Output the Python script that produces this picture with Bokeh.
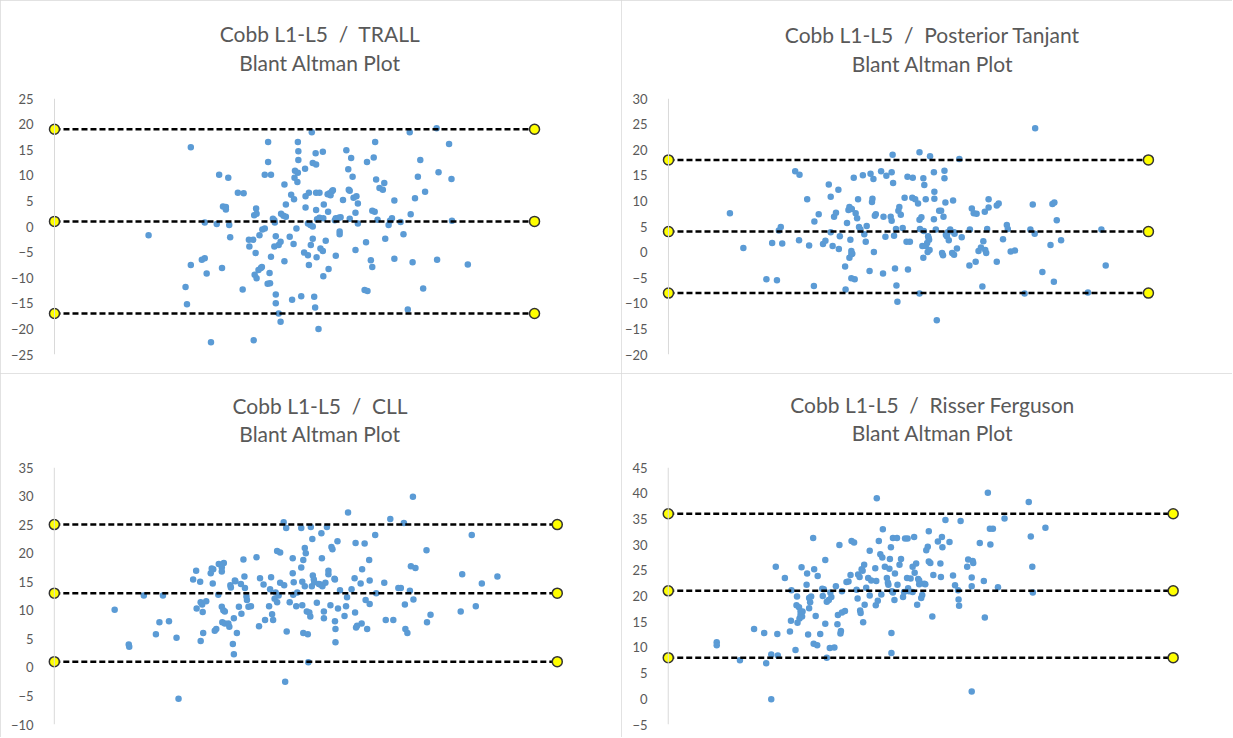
from bokeh.plotting import figure
from bokeh.layouts import gridplot
from bokeh.models import Title, Span, SingleIntervalTicker, Range1d
from bokeh.embed import file_html
from bokeh.resources import INLINE

# ---------------- data ----------------
line_x = [0, 100]  # extent of the agreement lines (arbitrary mean scale)

# Panel 1: Cobb L1-L5 / TRALL
trall_mean = [
    19.6, 28.4, 27.3, 27.6, 28.4, 30.7, 31.3, 31.3, 31.7, 32.6,
    33.8, 34.3, 34.9, 35.1, 35.7, 35.7, 36.2, 36.4, 36.6, 38.2,
    39.4, 39.2, 40.5, 40.6, 41.4, 41.5, 41.6, 42.0, 42.1, 41.9,
    41.7, 42.1, 42.5, 43.0, 43.2, 42.7, 43.3, 43.8, 43.8, 44.5,
    44.5, 45.1, 44.4, 44.9, 44.8, 45.1, 45.5, 45.8, 45.9, 45.8,
    46.1, 46.1, 46.1, 46.7, 47.1, 46.7, 47.1, 47.2, 47.7, 48.2,
    47.9, 47.9, 48.2, 49.0, 49.3, 49.5, 49.8, 49.9, 50.0, 50.1,
    50.7, 50.6, 50.4, 50.7, 50.8, 50.8, 51.4, 52.0, 52.2, 52.3,
    52.3, 52.8, 52.8, 53.3, 53.8, 53.0, 53.0, 53.4, 53.8, 53.6,
    53.8, 54.5, 54.1, 54.3, 54.4, 54.5, 54.6, 54.5, 55.2, 54.7,
    55.2, 55.0, 55.4, 55.9, 55.9, 56.0, 56.1, 56.0, 56.5, 56.9,
    57.3, 57.8, 58.0, 57.5, 57.0, 57.1, 58.4, 58.6, 59.2, 59.6,
    58.6, 59.4, 59.4, 60.1, 60.8, 61.2, 61.5, 61.3, 61.5, 61.8,
    62.1, 62.3, 62.7, 62.9, 63.2, 63.2, 62.7, 64.9, 64.6, 65.2,
    65.1, 65.9, 66.2, 66.2, 66.7, 66.5, 66.8, 67.0, 67.3, 67.7,
    68.4, 68.7, 68.9, 69.6, 69.9, 70.3, 70.8, 70.8, 72.1, 72.7,
    73.6, 74.0, 74.2, 74.6, 75.1, 75.7, 76.2, 76.8, 77.2, 79.6,
    79.7, 80.0, 82.2, 82.7, 82.8, 86.1,
]
trall_diff = [
    -1.7, 15.5, -11.8, -15.2, -7.5, -6.5, -6.2, 0.8, -9.2, -22.6,
    0.5, 10.1, -8.1, 3.9, 3.8, 3.3, 9.5, 0.3, -2.1, 6.6,
    6.5, -12.3, -2.6, -3.9, -2.6, -22.2, 2.2, 3.5, 2.5, -5.2,
    -9.4, -10.1, -8.5, -8.1, -7.9, -1.7, -0.6, -0.4, 10.1, 16.5,
    12.6, 10.1, -11.2, -11.1, -9.1, -5.9, 1.5, 1.2, 0.8, -3.9,
    -1.9, -13.3, -15.0, -17.0, -18.6, -3.6, -3.0, 2.5, 2.1, 1.9,
    -6.8, 8.2, 4.3, -2.0, 6.2, -14.3, -3.4, 5.3, 9.5, 10.9,
    10.5, 8.7, -0.4, 16.5, 14.7, 13.0, -13.6, -5.1, 11.3, 5.9,
    3.7, -5.6, 0.6, 0.3, 0.0, -7.5, 6.6, -3.6, -2.4, 18.4,
    12.4, 12.1, -13.7, -15.8, 14.3, 3.2, -6.0, 6.6, 6.6, 1.4,
    1.7, -20.0, -4.3, -4.8, 14.6, -9.7, 4.3, 1.6, -2.8, 6.3,
    6.5, 6.9, 7.1, 6.1, 2.9, -8.3, 1.2, 1.6, 1.7, 1.8,
    -5.7, -1.0, -1.5, 5.2, 14.9, 11.2, 7.0, 7.2, 1.5, 13.4,
    9.7, 5.6, 2.7, 5.9, 4.5, 0.6, -4.6, -3.1, -12.4, -12.6,
    12.6, -6.6, -7.9, 3.1, 2.9, 13.5, 16.5, 9.2, 1.3, 7.5,
    7.2, 8.5, -2.4, 0.3, 1.1, 1.6, 5.1, -6.3, 0.9, -1.5,
    -16.2, 18.4, 2.4, -7.0, 5.5, 9.7, 13.0, -12.1, 6.8, 19.2,
    -6.5, 10.6, 16.1, 9.3, 1.1, -7.4,
]
trall_limits = [19, 1, -17]

# Panel 2: Cobb L1-L5 / Posterior Tanjant
post_mean = [
    12.8, 15.6, 20.4, 21.6, 22.6, 23.0, 23.4, 23.7, 26.4, 27.3,
    27.2, 28.9, 29.3, 30.4, 30.3, 31.3, 32.2, 32.7, 33.4, 33.8,
    33.8, 34.2, 34.5, 34.9, 35.4, 35.5, 35.7, 36.8, 36.9, 37.2,
    37.5, 37.7, 37.7, 37.9, 38.1, 38.1, 38.2, 38.3, 38.1, 38.6,
    38.8, 39.0, 39.3, 39.5, 39.7, 40.0, 40.5, 40.8, 41.1, 41.3,
    41.9, 42.1, 42.4, 42.5, 42.7, 42.8, 43.0, 43.2, 44.3, 44.7,
    44.8, 45.2, 45.4, 46.3, 46.5, 46.5, 46.8, 47.0, 46.7, 47.2,
    47.4, 47.5, 47.7, 47.9, 48.1, 48.4, 48.8, 49.2, 49.6, 49.9,
    49.8, 50.3, 50.9, 50.8, 51.4, 52.0, 52.3, 52.4, 52.3, 52.7,
    52.9, 53.1, 53.1, 53.3, 53.6, 53.2, 53.6, 53.9, 54.0, 54.1,
    54.2, 54.3, 54.5, 54.4, 55.3, 55.4, 55.3, 55.4, 55.7, 55.9,
    56.4, 56.8, 57.0, 57.2, 57.3, 57.5, 57.5, 57.7, 57.8, 58.0,
    58.2, 58.4, 58.7, 59.1, 59.3, 59.5, 59.5, 59.6, 60.1, 60.6,
    61.1, 62.7, 62.8, 63.2, 63.6, 64.0, 64.2, 64.6, 65.1, 65.4,
    65.6, 65.9, 66.0, 66.2, 66.4, 66.7, 66.7, 68.4, 68.4, 68.8,
    69.7, 70.5, 70.7, 71.3, 72.2, 74.2, 75.4, 75.9, 76.3, 76.4,
    77.9, 79.6, 80.0, 80.4, 80.3, 80.9, 81.8, 87.4, 90.2, 91.1, 52.3,
]
post_diff = [
    7.6, 0.8, -5.3, 1.8, -5.5, 4.2, 4.9, 1.7, 15.8, 15.1,
    2.3, 10.3, 1.3, 6.0, -6.6, 7.4, 1.6, 2.2, 13.2, 10.8,
    3.9, 1.2, 6.9, 7.7, 12.2, 0.6, 3.1, -2.8, -7.3, 5.7,
    8.2, -1.1, 8.8, 2.4, 0.2, -0.4, 8.4, -0.3, -5.1, 14.5,
    -5.3, 7.6, 6.6, 10.3, 4.9, 4.4, 15.0, 3.5, 2.0, 5.1,
    -3.7, 15.3, 9.8, 10.4, 14.3, 0.0, 7.1, 7.4, 15.8, -4.2,
    6.9, 3.0, 14.9, 6.9, 15.6, 6.1, 13.5, 3.2, 19.0, -3.2,
    4.5, -6.5, -9.7, 8.1, 8.8, 7.3, 4.7, 10.6, 2.0, -3.4,
    14.7, 2.0, 14.5, 10.6, 10.3, 9.5, 19.5, 4.5, 6.3, 6.8,
    1.2, -1.1, 14.4, 13.1, 10.3, 4.1, 1.2, 1.8, 0.0, 3.1,
    2.7, 2.4, 18.7, 0.4, 15.6, 11.8, 6.4, 10.4, 4.4, -13.3,
    8.1, 8.1, -0.2, -0.6, 6.9, 14.4, 15.9, 9.7, 3.4, 3.1,
    3.9, 2.3, 4.4, -0.2, 10.1, -0.5, 3.9, 3.6, 0.7, 18.2,
    2.9, -2.6, 4.4, 8.5, 7.6, -1.9, 7.5, 0.2, 0.9, -6.7,
    2.1, 7.9, 0.4, -0.2, 4.5, 8.7, 10.3, -1.9, 9.1, 9.5,
    2.5, 5.3, 4.5, 0.1, 0.3, -8.1, 4.4, 9.3, 3.6, 24.2,
    -3.9, 1.4, 9.4, 9.7, -5.8, 6.2, 2.3, -7.9, 4.4, -2.6, -8.1,
]
post_limits = [18, 4, -8]

# Panel 3: Cobb L1-L5 / CLL
cll_mean = [
    12.0, 14.8, 14.9, 17.8, 20.2, 20.9, 21.6, 22.8, 24.3, 24.7,
    27.6, 28.2, 28.3, 29.0, 29.1, 29.1, 29.4, 29.5, 29.6, 30.2,
    31.1, 31.3, 31.5, 31.6, 31.9, 32.2, 32.6, 32.7, 33.3, 33.3,
    33.3, 33.4, 33.6, 33.7, 33.9, 33.9, 34.6, 34.8, 35.0, 35.1,
    35.5, 35.7, 35.7, 35.9, 36.0, 36.3, 36.7, 37.1, 37.2, 37.6,
    37.8, 37.9, 38.2, 38.3, 38.6, 39.1, 40.2, 40.7, 40.9, 41.6,
    41.9, 42.7, 42.9, 43.1, 43.3, 43.5, 43.8, 44.0, 44.3, 44.3,
    44.6, 44.9, 44.9, 45.6, 45.7, 45.9, 46.1, 46.2, 46.8, 47.4,
    47.4, 47.5, 47.6, 48.1, 48.3, 49.1, 49.1, 49.3, 49.3, 49.5,
    49.5, 49.8, 49.8, 50.0, 50.2, 50.4, 50.5, 50.7, 50.9, 51.0,
    51.2, 51.3, 51.4, 51.6, 51.7, 52.2, 52.6, 52.9, 53.1, 53.2,
    53.3, 53.6, 53.6, 53.9, 54.2, 54.5, 54.5, 54.9, 55.1, 55.3,
    55.7, 55.8, 55.8, 55.9, 55.9, 56.3, 56.4, 56.8, 57.7, 58.0,
    58.2, 58.4, 59.1, 59.7, 59.8, 59.9, 60.0, 60.2, 60.9, 61.1,
    61.2, 61.7, 61.9, 62.2, 62.6, 62.7, 62.7, 63.8, 64.0, 65.6,
    65.9, 66.8, 67.4, 68.4, 68.9, 69.5, 69.7, 69.8, 70.2, 70.7,
    70.9, 71.3, 71.4, 71.8, 74.0, 74.1, 74.8, 80.8, 81.1, 83.0, 83.8, 85.0, 88.1,
]
cll_diff = [
    10.1, 4.0, 3.6, 12.6, 5.8, 7.9, 12.6, 8.1, 5.2, -5.5,
    15.4, 16.9, 10.3, 15.0, 4.6, 11.4, 11.0, 9.7, 6.0, 11.6,
    16.5, 17.3, 14.7, 17.2, 6.4, 6.7, 12.7, 18.1, 17.5, 16.8,
    10.6, 7.9, 10.0, 18.3, 9.8, 7.7, 7.7, 7.1, 14.4, 14.0,
    4.1, 2.3, 8.6, 15.2, 15.1, 6.0, 10.6, 14.6, 9.4, 18.9,
    15.9, 13.9, 12.4, 11.8, 10.6, 10.7, 19.3, 7.2, 15.6, 14.5,
    8.3, 10.7, 13.7, 15.8, 9.3, 8.3, 12.0, 13.1, 11.4, 20.4,
    12.6, 20.1, 14.8, 25.4, 14.4, -2.5, 24.4, 6.3, 11.4, 19.1,
    16.5, 12.7, 14.9, 10.7, 13.1, 24.4, 17.5, 10.9, 15.0, 6.0,
    18.8, 14.2, 20.9, 20.0, 9.8, 5.8, 0.9, 9.6, 8.9, 24.6,
    14.2, 22.5, 16.1, 15.4, 14.9, 11.3, 14.6, 14.5, 23.5, 19.1,
    14.2, 9.8, 8.6, 14.8, 24.6, 16.3, 16.9, 10.9, 21.1, 20.7,
    15.5, 15.4, 8.1, 6.7, 4.4, 22.1, 10.3, 13.5, 9.0, 10.7,
    12.3, 27.1, 13.7, 15.6, 9.6, 21.8, 7.0, 7.3, 14.7, 7.7,
    17.2, 21.7, 11.8, 6.7, 18.8, 15.2, 11.1, 23.2, 13.0, 14.8,
    8.3, 26.0, 8.3, 13.9, 13.9, 25.3, 11.0, 6.7, 6.0, 13.4,
    17.7, 29.9, 11.9, 17.4, 20.5, 7.9, 9.2, 9.8, 16.3, 23.2, 10.7, 14.7, 15.9,
]
cll_limits = [25, 13, 1]

# Panel 4: Cobb L1-L5 / Risser Ferguson
rf_mean = [
    9.6, 9.6, 14.2, 17.0, 19.0, 19.4, 20.4, 20.4, 21.3, 21.6,
    21.7, 23.1, 24.1, 24.3, 24.4, 25.2, 25.4, 25.5, 25.6, 25.9,
    26.0, 26.2, 26.2, 26.4, 26.5, 26.6, 27.4, 27.5, 27.7, 27.9,
    27.9, 28.1, 28.3, 28.7, 28.8, 28.9, 29.2, 29.5, 29.6, 30.1,
    30.5, 30.6, 30.8, 31.1, 31.1, 31.4, 31.4, 31.8, 32.0, 32.1,
    32.3, 32.9, 33.2, 33.5, 33.6, 33.9, 34.1, 34.2, 34.4, 34.4,
    35.0, 35.3, 35.7, 36.1, 36.3, 36.8, 37.3, 37.5, 37.6, 37.9,
    38.0, 38.1, 38.3, 38.5, 38.6, 38.8, 38.9, 39.2, 39.6, 39.9,
    39.9, 40.2, 41.0, 41.1, 41.2, 41.3, 41.5, 41.7, 42.0, 42.2,
    42.4, 42.5, 42.9, 43.3, 43.5, 43.6, 43.8, 43.9, 44.1, 44.2,
    44.2, 44.3, 44.5, 44.5, 44.8, 44.9, 45.3, 45.4, 45.8, 46.1,
    46.5, 46.7, 46.9, 47.3, 47.4, 47.5, 47.7, 48.0, 48.4, 48.4,
    48.7, 48.8, 49.1, 49.3, 49.5, 49.7, 49.7, 50.1, 50.3, 50.7,
    50.9, 51.1, 51.4, 51.6, 51.6, 51.9, 52.3, 52.5, 53.4, 53.9,
    54.0, 54.2, 54.3, 54.9, 55.7, 56.4, 56.8, 57.4, 57.5, 57.6,
    57.9, 59.2, 59.4, 60.1, 60.1, 60.3, 60.1, 60.4, 61.7, 62.5,
    62.7, 63.3, 63.7, 63.8, 64.3, 65.3, 66.6, 71.4, 71.8, 72.1, 72.2, 74.7,
]
rf_diff = [
    11.0, 10.4, 7.5, 13.6, 12.8, 6.9, -0.1, 8.6, 25.7, 12.6,
    8.4, 23.5, 13.1, 15.2, 21.1, 9.5, 18.2, 19.9, 14.8, 17.8,
    15.6, 17.0, 16.3, 25.6, 16.0, 17.0, 22.2, 24.4, 12.5, 17.6,
    19.6, 18.8, 19.9, 31.3, 10.7, 25.2, 16.1, 10.4, 23.9, 12.6,
    21.4, 20.0, 21.3, 27.0, 14.6, 8.0, 18.9, 19.2, 9.9, 20.7,
    19.8, 10.0, 21.9, 14.5, 16.3, 29.9, 12.7, 13.2, 16.8, 20.9,
    17.1, 22.7, 22.8, 24.1, 30.7, 30.4, 21.2, 19.5, 24.2, 23.7,
    17.2, 16.7, 25.2, 24.9, 14.9, 26.1, 18.3, 21.6, 23.5, 28.8,
    20.1, 23.0, 25.4, 18.2, 22.9, 39.0, 19.1, 30.7, 28.1, 20.3,
    27.5, 33.0, 25.7, 23.5, 22.6, 22.2, 25.3, 27.2, 29.5, 12.8,
    8.9, 20.9, 20.7, 31.3, 19.2, 24.4, 31.3, 22.2, 26.1, 27.2,
    19.8, 20.8, 31.2, 23.5, 31.2, 21.5, 20.9, 23.4, 25.7, 20.8,
    31.5, 24.5, 26.3, 18.3, 23.3, 22.3, 23.0, 19.6, 20.2, 22.4,
    22.3, 28.9, 29.6, 26.7, 32.6, 26.4, 16.0, 24.1, 30.6, 26.3,
    23.7, 31.5, 29.5, 34.8, 30.5, 24.0, 22.1, 21.1, 19.3, 18.1,
    34.6, 25.7, 27.1, 21.9, 23.6, 26.8, 1.4, 26.4, 30.3, 22.9,
    15.8, 40.1, 33.1, 30.0, 33.1, 21.7, 35.1, 38.3, 31.6, 25.7, 20.7, 33.3,
]
rf_limits = [36, 21, 8]

NB = "\u00a0"
titles = [f"Cobb L1-L5{NB} /{NB} TRALL", f"Cobb L1-L5{NB} /{NB} Posterior Tanjant",
          f"Cobb L1-L5{NB} /{NB} CLL", f"Cobb L1-L5{NB} /{NB} Risser Ferguson"]
subtitle = "Blant Altman Plot"

TEXT = "#595959"
FONT = "Lato"


def make_panel(title, xs, ys, limits, yr, xr, size, borders, standoffs):
    left, right, top, bottom = borders
    w, h = size
    s_sub, s_main = standoffs
    p = figure(width=w, height=h, output_backend="svg", toolbar_location=None,
               x_range=Range1d(*xr), y_range=Range1d(*yr),
               min_border_left=left, min_border_right=right,
               min_border_top=top, min_border_bottom=bottom,
               title=None)
    p.styles = {"outline": "1px solid #d9d9d9", "outline-offset": "-1px"}
    t2 = Title(text=subtitle, align="center", text_font=FONT, text_font_size="21px",
               text_font_style="normal", text_color=TEXT, standoff=s_sub)
    t1 = Title(text=title, align="center", text_font=FONT, text_font_size="21px",
               text_font_style="normal", text_color=TEXT, standoff=s_main)
    p.add_layout(t2, "above")
    p.add_layout(t1, "above")

    p.xaxis.visible = False
    p.grid.visible = False
    p.outline_line_color = None
    p.yaxis.ticker = SingleIntervalTicker(interval=5, num_minor_ticks=0)
    p.yaxis.axis_line_color = None
    p.yaxis.major_tick_line_color = None
    p.yaxis.minor_tick_line_color = None
    p.yaxis.major_label_text_color = TEXT
    p.yaxis.major_label_text_font = FONT
    p.yaxis.major_label_text_font_size = "13px"
    p.yaxis.major_label_standoff = 5

    p.add_layout(Span(location=0, dimension="height", line_color="#d9d9d9", line_width=1))

    p.scatter(xs, ys, size=6.5, fill_color="#5b9bd5", line_color=None)

    for lim in limits:
        p.line(line_x, [lim, lim], line_color="black", line_width=2.5, line_dash="6 3")
        p.scatter(line_x, [lim, lim], size=10, fill_color="#ffff00",
                  line_color="#333333", line_width=1.5)
    return p


p1 = make_panel(titles[0], trall_mean, trall_diff, trall_limits, (-25, 25), (-2.08, 112.7),
                (621, 373), (44, 26, 98, 19), (47, -43))
p2 = make_panel(titles[1], post_mean, post_diff, post_limits, (-20, 30), (-2.08, 112.1),
                (611, 373), (36, 26, 97, 19), (45, -41))
p3 = make_panel(titles[2], cll_mean, cll_diff, cll_limits, (-10, 35), (-1.95, 107.6),
                (621, 364), (44, 16, 93, 13), (43, -41))
p4 = make_panel(titles[3], rf_mean, rf_diff, rf_limits, (-5, 45), (-1.93, 106.6),
                (611, 364), (33, 16, 94, 13), (45, -43))

grid = gridplot([[p1, p2], [p3, p4]], toolbar_location=None)
open("out.html", "w").write(file_html(grid, INLINE))
